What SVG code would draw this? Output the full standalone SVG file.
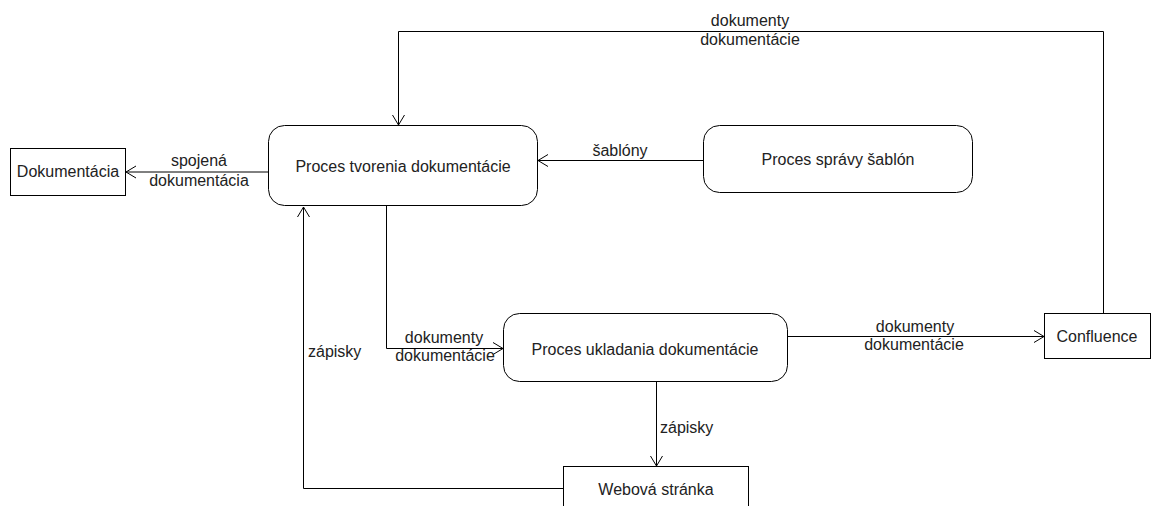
<svg xmlns="http://www.w3.org/2000/svg" width="1151" height="506" viewBox="0 0 1151 506">
<style>
.box{fill:#fff;stroke:#000;stroke-width:1}
.t{font-family:"Liberation Sans",Arial,sans-serif;font-size:16px;fill:#222}
.c{text-anchor:middle}
.e{fill:none;stroke:#000;stroke-width:1}
</style>
<defs>
<marker id="arr" markerWidth="12" markerHeight="14" refX="11" refY="7" orient="auto" markerUnits="userSpaceOnUse">
<path d="M1,1 L11,7 L1,13" fill="none" stroke="#000" stroke-width="1"/>
</marker>
</defs>
<rect width="1151" height="506" fill="#fff"/>
<g id="connectors">
<path class="e" d="M268,172 H126" marker-end="url(#arr)"/>
<path class="e" d="M703,160.5 H538" marker-end="url(#arr)"/>
<path class="e" d="M1103.5,313 V31.5 H398.5 V125" marker-end="url(#arr)"/>
<path class="e" d="M386.5,206 V348.5 H503" marker-end="url(#arr)"/>
<path class="e" d="M788,336.5 H1044" marker-end="url(#arr)"/>
<path class="e" d="M656.5,382 V466" marker-end="url(#arr)"/>
<path class="e" d="M563,488.5 H303.5 V207" marker-end="url(#arr)"/>
<text class="t c" x="199" y="166">spojená</text>
<text class="t c" x="199" y="186">dokumentácia</text>
<text class="t c" x="620" y="156">šablóny</text>
<text class="t c" x="750" y="26">dokumenty</text>
<text class="t c" x="750" y="45">dokumentácie</text>
<text class="t c" x="444" y="343">dokumenty</text>
<text class="t c" x="445" y="361">dokumentácie</text>
<text class="t c" x="915" y="332">dokumenty</text>
<text class="t c" x="914" y="350">dokumentácie</text>
<text class="t" x="308" y="357">zápisky</text>
<text class="t" x="660" y="433">zápisky</text>
</g>
<g id="dokumentacia">
<rect class="box" x="10.5" y="148.5" width="115" height="47"/>
<text class="t c" x="68" y="177">Dokumentácia</text>
</g>
<g id="proces-tvorenia">
<rect class="box" x="268.5" y="125.5" width="269" height="80" rx="16"/>
<text class="t c" x="403" y="172">Proces tvorenia dokumentácie</text>
</g>
<g id="proces-spravy">
<rect class="box" x="703.5" y="125.5" width="269" height="67" rx="16"/>
<text class="t c" x="838" y="165">Proces správy šablón</text>
</g>
<g id="proces-ukladania">
<rect class="box" x="503.5" y="313.5" width="284" height="68" rx="16"/>
<text class="t c" x="645" y="355">Proces ukladania dokumentácie</text>
</g>
<g id="confluence">
<rect class="box" x="1044.5" y="313.5" width="106" height="45"/>
<text class="t c" x="1097" y="342">Confluence</text>
</g>
<g id="webova-stranka">
<rect class="box" x="563.5" y="466.5" width="185" height="60"/>
<text class="t c" x="656" y="495">Webová stránka</text>
</g>
</svg>
